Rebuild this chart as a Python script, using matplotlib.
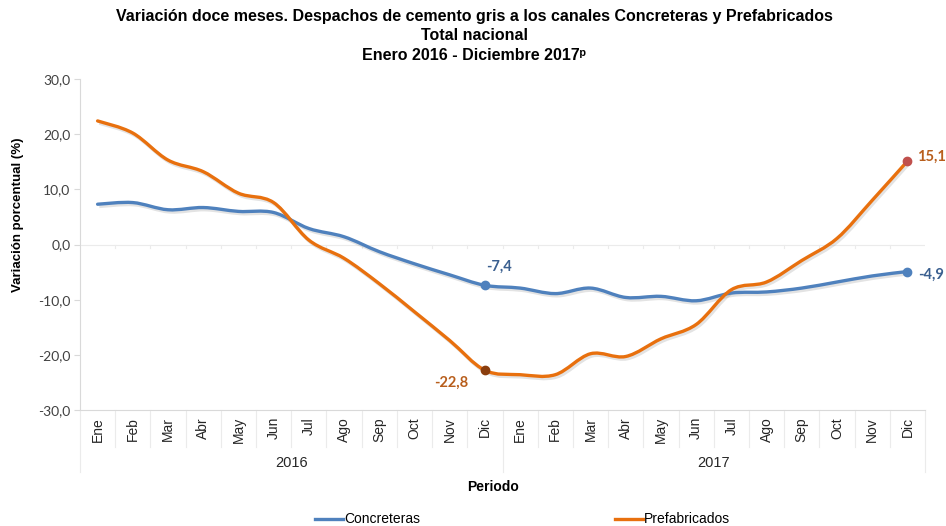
import numpy as np
import matplotlib
matplotlib.use("Agg")
import matplotlib.pyplot as plt
from matplotlib.path import Path
from matplotlib.patches import PathPatch
from matplotlib.lines import Line2D
import matplotlib.transforms as mtransforms

months = ["Ene", "Feb", "Mar", "Abr", "May", "Jun", "Jul", "Ago", "Sep", "Oct", "Nov", "Dic"]
years = ["2016", "2017"]
categories = months * 2

concreteras = [7.3, 7.6, 6.3, 6.7, 6.0, 5.8, 2.9, 1.4, -1.3, -3.5, -5.5, -7.4,
               -7.9, -8.9, -7.9, -9.6, -9.4, -10.2, -8.8, -8.6, -7.9, -6.8, -5.7, -4.9]
prefabricados = [22.4, 20.2, 15.3, 13.2, 9.3, 7.6, 0.8, -2.5, -7.1, -12.2, -17.4, -22.8,
                 -23.6, -23.6, -19.8, -20.3, -17.1, -14.5, -8.2, -6.8, -2.9, 1.1, 8.0, 15.1]
yticks = [30, 20, 10, 0, -10, -20, -30]
ytick_labels = ["30,0", "20,0", "10,0", "0,0", "-10,0", "-20,0", "-30,0"]

BLUE = "#4F81BD"
ORANGE = "#E8700E"
NARROW = ["Liberation Sans Narrow", "Liberation Sans", "DejaVu Sans"]
ARIAL = ["Liberation Sans", "DejaVu Sans"]
CAL = ["Lato", "DejaVu Sans"]

fig = plt.figure(figsize=(9.46, 5.26), dpi=100)
ax = fig.add_axes([80/946, 116/526, 845/946, 331/526])
ax.set_xlim(-0.5, len(categories) - 0.5)
ax.set_ylim(-30, 30)


def smooth_path(xs, ys):
    pts = np.column_stack([xs, ys]).astype(float)
    n = len(pts)
    verts = [pts[0]]
    codes = [Path.MOVETO]
    for i in range(n - 1):
        p0 = pts[i - 1] if i > 0 else pts[i]
        p1 = pts[i]
        p2 = pts[i + 1]
        p3 = pts[i + 2] if i + 2 < n else pts[i + 1]
        c1 = p1 + (p2 - p0) / 6.0
        c2 = p2 - (p3 - p1) / 6.0
        verts += [c1, c2, p2]
        codes += [Path.CURVE4] * 3
    return Path(verts, codes)


x = np.arange(len(categories))
shift = ax.transData + mtransforms.ScaledTranslation(1.2/72, -1.5/72, fig.dpi_scale_trans)
for vals, col in [(concreteras, BLUE), (prefabricados, ORANGE)]:
    ax.add_patch(PathPatch(smooth_path(x, vals), facecolor="none", edgecolor="#808080", lw=2.6,
                           alpha=0.22, transform=shift, zorder=2))
    ax.add_patch(PathPatch(smooth_path(x, vals), facecolor="none", edgecolor=col, lw=2.4,
                           capstyle="round", joinstyle="round", zorder=3))

# markers
ax.plot([11], [concreteras[11]], "o", color=BLUE, ms=6, zorder=4)
ax.plot([23], [concreteras[23]], "o", color=BLUE, ms=6, zorder=4)
ax.plot([11], [prefabricados[11]], "o", color="#8A3E0E", ms=6, zorder=4)
ax.plot([23], [prefabricados[23]], "o", color="#C0504D", ms=6, zorder=4)


def fmt(v):
    return f"{v:.1f}".replace(".", ",")


ax.annotate(fmt(concreteras[11]), (11, concreteras[11]), xytext=(10, 13), textcoords="offset points",
            ha="center", va="center", color="#3A5F8F", fontsize=10.5, fontweight="bold", family=CAL)
ax.annotate(fmt(prefabricados[11]), (11, prefabricados[11]), xytext=(-24, -9), textcoords="offset points",
            ha="center", va="center", color="#B85E1C", fontsize=10.5, fontweight="bold", family=CAL)
ax.annotate(fmt(prefabricados[23]), (23, prefabricados[23]), xytext=(7, 3), textcoords="offset points",
            ha="left", va="center", color="#B85E1C", fontsize=10.5, fontweight="bold", family=CAL)
ax.annotate(fmt(concreteras[23]), (23, concreteras[23]), xytext=(8, -2), textcoords="offset points",
            ha="left", va="center", color="#3A5F8F", fontsize=10.5, fontweight="bold", family=CAL)

# axes styling
GRID = "#D9D9D9"
for s in ["top", "right"]:
    ax.spines[s].set_visible(False)
ax.spines["left"].set_color(GRID)
ax.spines["bottom"].set_color(GRID)
ax.axhline(0, color="#EBEBEB", lw=0.8, zorder=1)
ax.set_yticks(yticks)
ax.set_yticklabels(ytick_labels, family=CAL, fontsize=10, color="#404040")
ax.tick_params(axis="y", length=4, color=GRID, pad=3)
ax.set_xticks([])

for k in range(1, len(categories)):
    ax.plot([k - 0.5, k - 0.5], [0, -0.6], color="#EBEBEB", lw=0.8, zorder=1)

trans = mtransforms.blended_transform_factory(ax.transData, ax.transAxes)
px = 1.0 / 331
for i, m in enumerate(categories):
    ax.text(i, -7 * px, m, transform=trans, rotation=90, ha="center", va="top",
            fontsize=10, family=ARIAL, color="#262626", clip_on=False)
for k in range(1, len(categories)):
    if k == 12:
        continue
    ax.add_line(Line2D([k - 0.5, k - 0.5], [0, -37 * px], transform=trans, color="#EBEBEB", lw=0.8, clip_on=False))
for xb in [-0.5, 11.5, len(categories) - 0.5]:
    ax.add_line(Line2D([xb, xb], [0, -62 * px], transform=trans, color="#EBEBEB", lw=0.8, clip_on=False))
for j, yr in enumerate(years):
    ax.text(5.5 + 12 * j, -53 * px, yr, transform=trans, ha="center", va="center",
            fontsize=10.5, family=NARROW, color="#262626")

fig.text(493/946, 1 - 487/526, "Periodo", ha="center", va="center", fontsize=10,
         fontweight="bold", family=NARROW)
fig.text(18/946, 1 - 215/526, "Variación porcentual (%)", ha="center", va="center", rotation=90,
         fontsize=9.5, fontweight="bold", family=ARIAL)

TITLE_X = 474/946
fig.text(TITLE_X, 1 - 17/526, "Variación doce meses. Despachos de cemento gris a los canales Concreteras y Prefabricados",
         ha="center", va="center", fontsize=11.5, fontweight="bold", family=NARROW)
fig.text(TITLE_X, 1 - 36/526, "Total nacional", ha="center", va="center", fontsize=11.5,
         fontweight="bold", family=NARROW)
fig.text(TITLE_X, 1 - 55/526, "Enero 2016 - Diciembre 2017ᵖ", ha="center", va="center", fontsize=11.5,
         fontweight="bold", family=NARROW)

for (x0, label, col) in [(315, "Concreteras", BLUE), (615, "Prefabricados", ORANGE)]:
    fig.add_artist(Line2D([x0/946, (x0 + 28)/946], [1 - 519/526, 1 - 519/526], color=col, lw=2.4))
    fig.text((x0 + 29)/946, 1 - 519/526, label, ha="left", va="center", fontsize=10, family=NARROW)

fig.savefig("out.png", dpi=100)
